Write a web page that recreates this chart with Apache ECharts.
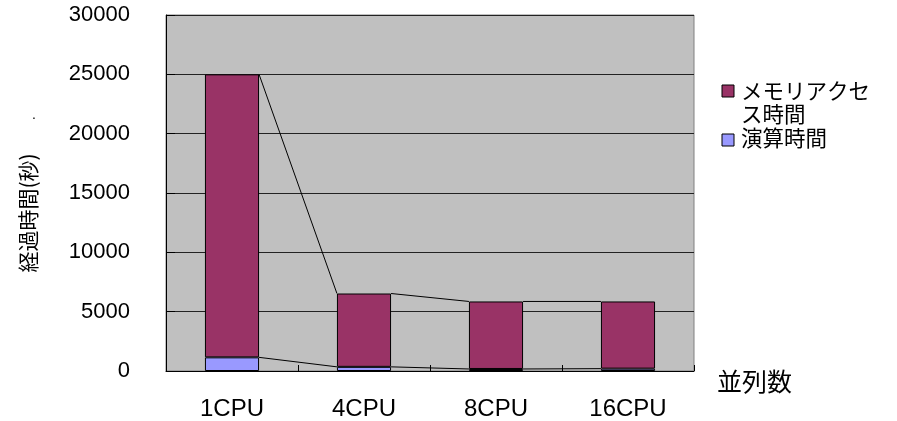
<!DOCTYPE html>
<html>
<head>
<meta charset="utf-8">
<script src="https://cdn.jsdelivr.net/npm/echarts@6/dist/echarts.min.js"></script>
<style>html,body{margin:0;padding:0;background:#fff;}#c{width:897px;height:421px;}</style>
</head>
<body>
<div id="c"></div>
<script>
const categories = ['1CPU', '4CPU', '8CPU', '16CPU'];
const computeTime = [1150, 350, 170, 200];
const memoryTime = [23850, 6180, 5690, 5660];
const seriesNames = ['メモリアクセス時間', '演算時間'];
const xAxisName = '並列数';
const yAxisName = '経過時間(秒)';
const yMin = 0, yMax = 30000, yStep = 5000;

const totals = categories.map((c, i) => computeTime[i] + memoryTime[i]);
const totalLinks = [], computeLinks = [];
for (let i = 0; i < categories.length - 1; i++) {
  totalLinks.push([i, totals[i], totals[i + 1]]);
  computeLinks.push([i, computeTime[i], computeTime[i + 1]]);
}
const BAR_FRAC = 0.41;
function linkRender(params, api) {
  const i = api.value(0);
  const p1 = api.coord([i, api.value(1)]);
  const p2 = api.coord([i + 1, api.value(2)]);
  const half = api.size([1, 0])[0] * BAR_FRAC / 2;
  return {
    type: 'line',
    shape: { x1: p1[0] + half, y1: p1[1], x2: p2[0] - half, y2: p2[1] },
    style: { stroke: '#000', lineWidth: 1 }
  };
}

const chart = echarts.init(document.getElementById('c'), null, { renderer: 'canvas' });
const numFont = 'Liberation Sans, Arial, sans-serif';
const cjkFont = 'Noto Sans CJK JP, sans-serif';
chart.setOption({
  animation: false,
  grid: { left: 166, right: 203, top: 15, bottom: 48, show: true, backgroundColor: '#C0C0C0', borderColor: '#808080', borderWidth: 1 },
  xAxis: {
    type: 'category', data: categories,
    axisLine: { lineStyle: { color: '#000', width: 1 } },
    axisTick: { show: true, inside: true, length: 6, lineStyle: { color: '#000' } },
    axisLabel: { fontFamily: numFont, fontSize: 24, color: '#000', margin: 26 },
    splitLine: { show: false }
  },
  yAxis: {
    type: 'value', min: yMin, max: yMax, interval: yStep,
    name: yAxisName, nameLocation: 'middle', nameRotate: 90, nameGap: 127,
    nameTextStyle: { fontFamily: cjkFont, fontSize: 21, color: '#000', padding: [0, 40, 0, 0] },
    axisLine: { show: true, lineStyle: { color: '#000', width: 1 } },
    axisTick: { show: true, inside: true, length: 9, lineStyle: { color: '#000' } },
    axisLabel: { fontFamily: numFont, fontSize: 22, color: '#000', margin: 36, formatter: v => String(v) },
    splitLine: { show: true, lineStyle: { color: '#222', width: 1 } }
  },
  series: [
    { name: seriesNames[1], type: 'bar', stack: 't', data: computeTime, barWidth: (BAR_FRAC * 100) + '%',
      itemStyle: { color: '#9999FF', borderColor: '#000', borderWidth: 1 } },
    { name: seriesNames[0], type: 'bar', stack: 't', data: memoryTime, barWidth: (BAR_FRAC * 100) + '%',
      itemStyle: { color: '#993366', borderColor: '#000', borderWidth: 1 } },
    { type: 'custom', renderItem: linkRender, data: totalLinks, encode: { x: 0, y: [1, 2] }, z: 5, silent: true },
    { type: 'custom', renderItem: linkRender, data: computeLinks, encode: { x: 0, y: [1, 2] }, z: 5, silent: true }
  ],
  graphic: [
    { type: 'rect', shape: { x: 722, y: 85, width: 12, height: 12 }, style: { fill: '#993366', stroke: '#000', lineWidth: 1 } },
    { type: 'text', x: 741, y: 79, style: { text: 'メモリアクセ\nス時間', font: '21.5px "Noto Sans CJK JP", sans-serif', lineHeight: 23, fill: '#000' } },
    { type: 'rect', shape: { x: 722, y: 134, width: 12, height: 12 }, style: { fill: '#9999FF', stroke: '#000', lineWidth: 1 } },
    { type: 'text', x: 741, y: 126, style: { text: seriesNames[1], font: '21.5px "Noto Sans CJK JP", sans-serif', lineHeight: 23, fill: '#000' } },
    { type: 'text', x: 717, y: 381, style: { text: xAxisName, font: '25px "Noto Sans CJK JP", sans-serif', verticalAlign: 'middle', fill: '#000' } },
    { type: 'text', x: 32, y: 108, style: { text: '.', font: '14px sans-serif', fill: '#000' } }
  ]
});
</script>
</body>
</html>
